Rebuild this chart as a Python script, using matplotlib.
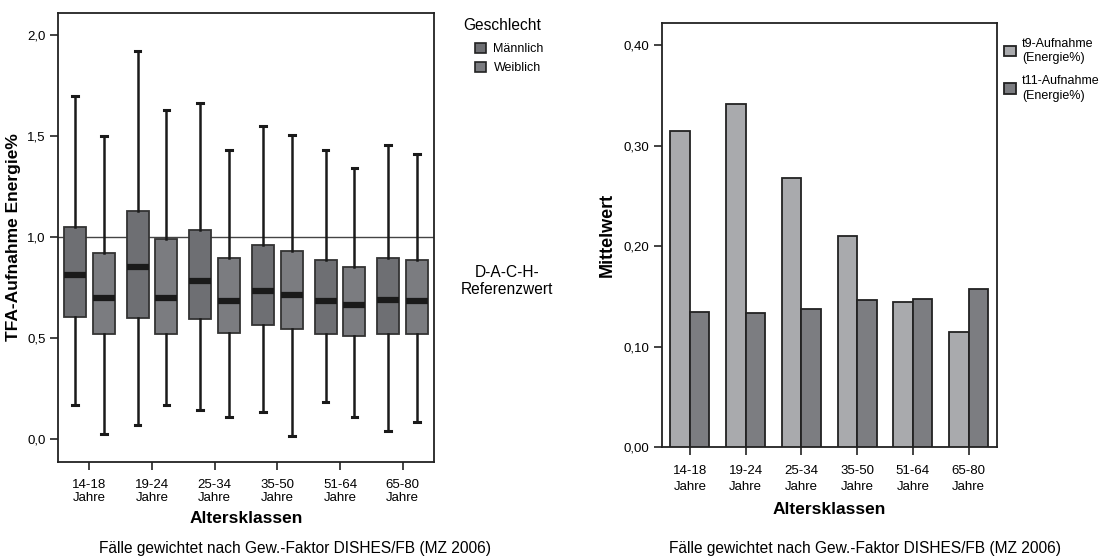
import matplotlib
matplotlib.use("Agg")
import matplotlib.pyplot as plt
from matplotlib.patches import Patch
from matplotlib.ticker import FuncFormatter
import numpy as np

plt.rcParams['font.family'] = ['Liberation Sans', 'DejaVu Sans']

categories = ["14-18\nJahre", "19-24\nJahre", "25-34\nJahre", "35-50\nJahre", "51-64\nJahre", "65-80\nJahre"]

# Boxplot stats (whisker low, Q1, median, Q3, whisker high)
male_whislo = [0.17, 0.07, 0.145, 0.135, 0.185, 0.04]
male_q1     = [0.605, 0.60, 0.595, 0.565, 0.52, 0.52]
male_med    = [0.81, 0.85, 0.78, 0.735, 0.685, 0.69]
male_q3     = [1.05, 1.13, 1.035, 0.96, 0.885, 0.895]
male_whishi = [1.70, 1.92, 1.665, 1.55, 1.43, 1.455]

fem_whislo = [0.025, 0.17, 0.11, 0.015, 0.11, 0.085]
fem_q1     = [0.52, 0.52, 0.525, 0.545, 0.51, 0.52]
fem_med    = [0.70, 0.70, 0.685, 0.715, 0.665, 0.685]
fem_q3     = [0.92, 0.99, 0.895, 0.93, 0.85, 0.885]
fem_whishi = [1.50, 1.63, 1.43, 1.505, 1.34, 1.41]

ref_value = 1.0

# Bar chart means
t9_mean  = [0.315, 0.341, 0.268, 0.210, 0.144, 0.114]
t11_mean = [0.134, 0.133, 0.137, 0.146, 0.147, 0.157]

male_color = "#6e6f73"
fem_color = "#7b7c80"
t9_color = "#a9aaad"
t11_color = "#7c7d81"

fig = plt.figure(figsize=(10.99, 5.58), dpi=100)

comma = FuncFormatter(lambda v, p: f"{v:.1f}".replace(".", ","))
comma2 = FuncFormatter(lambda v, p: f"{v:.2f}".replace(".", ","))

TICK_FS = 9.5
TITLE_FS = 12.5

# ---------- Left: boxplot ----------
ax1 = fig.add_axes([0.0528, 0.172, 0.3421, 0.8047])
x = np.arange(len(categories))
off = 0.23
bw = 0.35

def stats(lo, q1, med, q3, hi):
    return [dict(whislo=a, q1=b, med=c, q3=d, whishi=e, fliers=[]) for a, b, c, d, e in zip(lo, q1, med, q3, hi)]

for st, pos, col in [
    (stats(male_whislo, male_q1, male_med, male_q3, male_whishi), x - off, male_color),
    (stats(fem_whislo, fem_q1, fem_med, fem_q3, fem_whishi), x + off, fem_color),
]:
    ax1.bxp(st, positions=pos, widths=bw, patch_artist=True, showfliers=False,
            boxprops=dict(facecolor=col, edgecolor="#333333", linewidth=1.3),
            medianprops=dict(color="#1a1a1a", linewidth=4.5, solid_capstyle="butt"),
            whiskerprops=dict(color="#1a1a1a", linewidth=1.8),
            capprops=dict(color="#1a1a1a", linewidth=2.2),
            capwidths=0.09, zorder=3)

ax1.axhline(ref_value, color="#444444", linewidth=1.0, zorder=2)
ax1.set_xlim(-0.5, 5.5)
ax1.set_ylim(-0.114, 2.109)
ax1.set_yticks([0.0, 0.5, 1.0, 1.5, 2.0])
ax1.yaxis.set_major_formatter(comma)
ax1.set_xticks(x)
ax1.set_xticklabels(categories, fontsize=TICK_FS, linespacing=1.1)
ax1.tick_params(axis='both', direction='out', length=6, width=1.2, color="#222222", labelsize=TICK_FS, pad=3)
ax1.tick_params(axis='x', pad=6)
for s in ax1.spines.values():
    s.set_linewidth(1.3)
    s.set_color("#222222")
ax1.set_xlabel("Altersklassen", fontsize=TITLE_FS, fontweight='bold', labelpad=5)
ax1.set_ylabel("TFA-Aufnahme Energie%", fontsize=TITLE_FS, fontweight='bold', labelpad=4)

# legend left
fig.text(463 / 1099, 1 - 25 / 558, "Geschlecht", ha="left", va="center", fontsize=11.2)
handles1 = [Patch(facecolor=male_color, edgecolor="#222222", linewidth=1.2, label="Männlich"),
            Patch(facecolor=fem_color, edgecolor="#222222", linewidth=1.2, label="Weiblich")]
leg1 = fig.legend(handles=handles1, loc="upper left",
                  bbox_to_anchor=(466 / 1099, 1 - 34 / 558), frameon=False, fontsize=9,
                  handlelength=0.9, handleheight=0.9,
                  handletextpad=0.6, labelspacing=0.5, borderpad=0.2)

fig.text(507 / 1099, 1 - 281 / 558, "D-A-C-H-\nReferenzwert", ha="center", va="center", fontsize=11.2, linespacing=1.15)

fig.text(295 / 1099, 1 - 549 / 558, "Fälle gewichtet nach Gew.-Faktor DISHES/FB (MZ 2006)", ha="center", va="center", fontsize=11.2)

# ---------- Right: bar chart ----------
ax2 = fig.add_axes([0.6024, 0.1989, 0.3048, 0.7599])
w = 0.35
ax2.bar(x - w / 2, t9_mean, width=w, color=t9_color, edgecolor="#222222", linewidth=1.3, label="t9-Aufnahme\n(Energie%)", zorder=3)
ax2.bar(x + w / 2, t11_mean, width=w, color=t11_color, edgecolor="#222222", linewidth=1.3, label="t11-Aufnahme\n(Energie%)", zorder=3)
ax2.set_xlim(-0.5, 5.51)
ax2.set_ylim(0, 0.422)
ax2.set_yticks([0.0, 0.1, 0.2, 0.3, 0.4])
ax2.yaxis.set_major_formatter(comma2)
ax2.set_xticks(x)
ax2.set_xticklabels(categories, fontsize=TICK_FS, linespacing=1.4)
ax2.tick_params(axis='both', direction='out', length=6, width=1.2, color="#222222", labelsize=TICK_FS, pad=3)
ax2.tick_params(axis='x', pad=7)
for s in ax2.spines.values():
    s.set_linewidth(1.3)
    s.set_color("#222222")
ax2.set_xlabel("Altersklassen", fontsize=TITLE_FS, fontweight='bold', labelpad=7)
ax2.set_ylabel("Mittelwert", fontsize=13, fontweight='bold', labelpad=6)

leg2 = fig.legend(loc="upper left", bbox_to_anchor=(0.906, 1 - 29 / 558), frameon=False, fontsize=9,
                  handlelength=0.9, handleheight=0.9, handletextpad=0.5, labelspacing=0.85, borderpad=0.2)
for t in leg2.get_texts():
    t.set_linespacing(1.3)

fig.text(865 / 1099, 1 - 549 / 558, "Fälle gewichtet nach Gew.-Faktor DISHES/FB (MZ 2006)", ha="center", va="center", fontsize=11.2)

fig.savefig("out.png", dpi=100)
